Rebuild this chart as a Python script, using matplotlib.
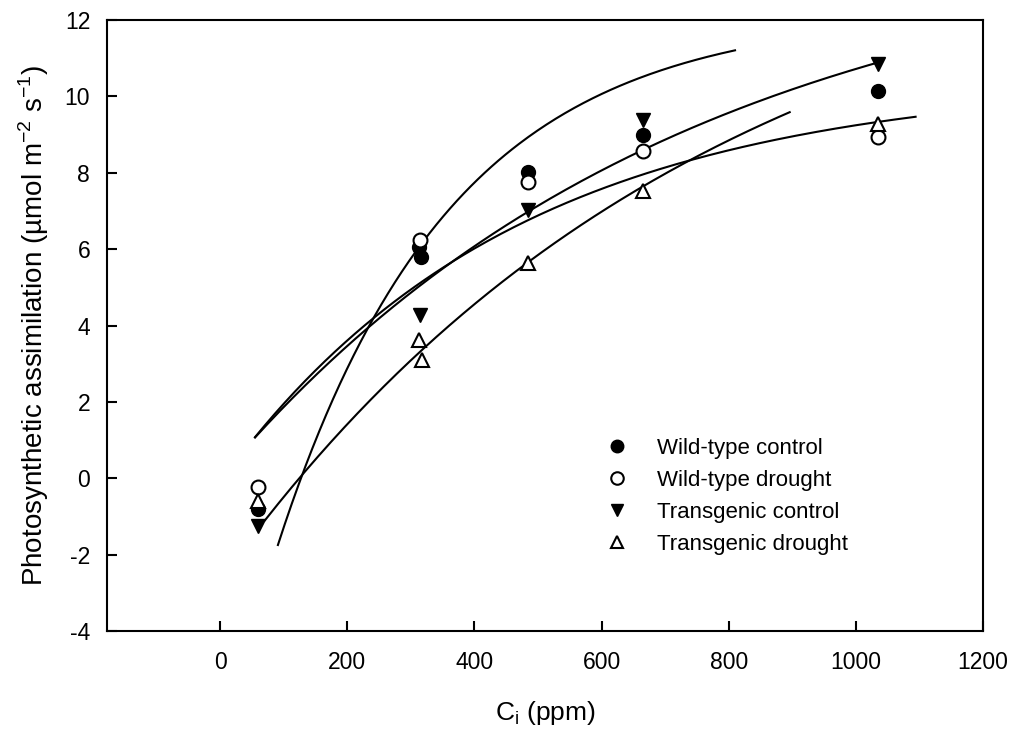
import numpy as np
import matplotlib as mpl
from matplotlib import pyplot as plt

mpl.rcParams['font.family'] = ['Liberation Sans', 'DejaVu Sans']
mpl.rcParams['axes.unicode_minus'] = False

# measured points (Ci in ppm, assimilation in umol m-2 s-1)
wt_ctrl_x = [60, 313, 316, 485, 665, 1035]
wt_ctrl_y = [-0.8, 6.05, 5.8, 8.02, 9.0, 10.14]
wt_dro_x = [60, 315, 485, 665, 1035]
wt_dro_y = [-0.23, 6.25, 7.76, 8.57, 8.94]
tg_ctrl_x = [60, 315, 485, 665, 1035]
tg_ctrl_y = [-1.25, 4.27, 7.02, 9.38, 10.85]
tg_dro_x = [60, 313, 318, 485, 665, 1035]
tg_dro_y = [-0.6, 3.62, 3.1, 5.64, 7.52, 9.28]

# fitted curves y = c - d*exp(-b*x)
fit_c = [12.18, 14.36, 10.45, 15.14]
fit_d = [19.5, 14.33, 10.56, 17.8]
fit_b = [0.0037, 0.00137, 0.00217, 0.0013]
fit_start = [91, 55, 55, 71]
fit_end = [810, 1038, 1094, 896]

fig = plt.figure(figsize=(10.18, 7.33), dpi=100)
ax = fig.add_axes([0.105, 0.139, 0.8606, 0.8337])

for c, d, b, x0, x1 in zip(fit_c, fit_d, fit_b, fit_start, fit_end):
    xx = np.linspace(x0, x1, 200)
    ax.plot(xx, c - d * np.exp(-b * xx), color='black', lw=1.5, zorder=2)

ms = 10
ax.plot(wt_ctrl_x, wt_ctrl_y, 'o', color='black', ms=ms, label='Wild-type control', zorder=3)
ax.plot(wt_dro_x, wt_dro_y, 'o', mfc='white', mec='black', mew=1.5, ms=ms,
        label='Wild-type drought', zorder=4)
ax.plot(tg_ctrl_x, tg_ctrl_y, 'v', color='black', ms=ms, label='Transgenic control', zorder=3)
ax.plot(tg_dro_x, tg_dro_y, '^', mfc='white', mec='black', mew=1.5, ms=ms,
        label='Transgenic drought', zorder=4)

ax.set_xlim(-178, 1200)
ax.set_ylim(-4, 12)
ax.set_xticks(range(0, 1201, 200))
ax.set_yticks(range(-4, 13, 2))
ax.tick_params(direction='in', length=7, width=1.5, labelsize=16.5)
ax.tick_params(axis='x', pad=14)
ax.tick_params(axis='y', pad=12)
for s in ax.spines.values():
    s.set_linewidth(1.5)

ax.set_xlabel('C$_\\mathregular{i}$ (ppm)', fontsize=19, labelpad=18)
ax.set_ylabel('Photosynthetic assimilation (\u00b5mol m$^\\mathregular{-2}$ s$^\\mathregular{-1}$)',
              fontsize=20, labelpad=10)

ax.legend(loc='upper left', bbox_to_anchor=(0.557, 0.335), frameon=False, fontsize=16,
          markerscale=0.9, handlelength=1.0, handletextpad=1.3, labelspacing=0.5,
          borderpad=0)

fig.savefig('out.png', dpi=100)
